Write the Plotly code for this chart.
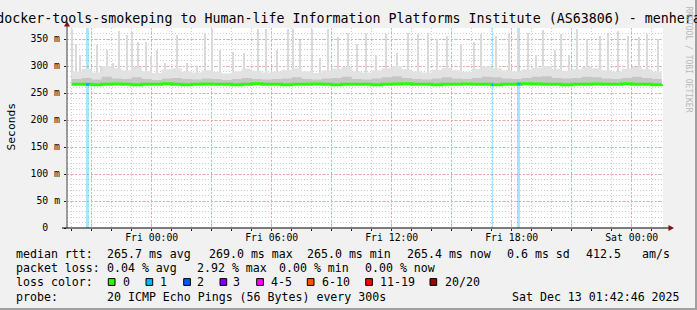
import numpy as np
import pandas as pd
import plotly.graph_objects as go

# ---------------- data ----------------
FRI0 = pd.Timestamp("2025-12-12 00:00:00")          # "Fri 00:00"
X_START = pd.Timestamp("2025-12-11 19:45:54")
X_END = pd.Timestamp("2025-12-13 01:33:54")

title_text = "docker-tools-smokeping to Human-life Information Platforms Institute (AS63806) - menhera"

# y axis ticks (ms)
y_tickvals = [0, 50, 100, 150, 200, 250, 300, 350]
y_ticktext = ["0\u00a0\u00a0", "50 m", "100 m", "150 m", "200 m", "250 m", "300 m", "350 m"]

# median rtt every 30 min, hours relative to Fri 00:00
median_hours = [-4.0 + 0.5 * i for i in range(60)]
median_ms = [266, 266, 265.5, 266, 266.5, 266, 265.5, 266, 266, 267,
             266, 265.5, 266, 266.5, 266, 266, 265.5, 266, 267, 266,
             266, 265.5, 266, 266, 266.5, 266, 265.5, 266, 266, 266,
             265.5, 266, 266.5, 267, 266, 266, 265.5, 266, 266, 266.5,
             266, 266, 265.5, 266, 266, 267, 266.5, 266, 266, 265.5,
             266, 266, 266.5, 266, 266, 267, 266, 266, 265.5, 266]
# dense smoke upper edges (ms) every 30 min
smoke_light_ms = [290, 295, 288, 300, 296, 292, 298, 290, 287, 294,
                  296, 290, 288, 292, 289, 286, 290, 295, 291, 288,
                  290, 293, 296, 290, 287, 292, 295, 298, 290, 288,
                  292, 296, 300, 294, 290, 288, 293, 297, 292, 289,
                  295, 299, 296, 292, 290, 294, 297, 300, 295, 291,
                  294, 298, 296, 292, 290, 295, 298, 294, 290, 292]
smoke_dark_ms = [276, 278, 275, 280, 277, 276, 279, 276, 274, 277,
                 278, 276, 275, 277, 276, 274, 276, 278, 276, 275,
                 276, 277, 279, 276, 275, 277, 278, 280, 276, 275,
                 277, 279, 281, 278, 276, 275, 277, 279, 277, 276,
                 278, 280, 279, 277, 276, 278, 280, 281, 278, 277,
                 278, 280, 279, 277, 276, 278, 280, 278, 276, 277]

# individual spikes (max ping): hours relative to Fri 00:00, ms
spike_hours = [-3.99, -3.79, -3.59, -2.74, -2.54, -2.24, -1.94, -1.64, -1.24, -0.99,
               -0.69, -0.29, -0.04, 0.27, 0.67, 1.27, 1.77, 2.27, 2.67, 3.02,
               3.42, 4.07, 4.62, 5.32, 5.72, 6.27, 6.82, 7.07, 7.42, 8.02,
               8.42, 8.82, 9.32, 9.82, 10.27, 10.72, 11.22, 11.72, 12.27, 12.82,
               13.32, 13.82, 14.27, 14.77, 15.47, 16.12, 16.47, 17.22, 17.87, 18.32,
               18.82, 19.22, 19.57, 20.17, 20.47, 20.87, 21.27, 21.77, 22.42, 22.82,
               23.32, 23.82, 24.37, 24.77, 25.32]
spike_ms = [368, 340, 320, 339, 300, 330, 305, 364, 357, 363,
            345, 344, 318, 330, 305, 357, 305, 300, 361, 369,
            330, 326, 324, 368, 368, 330, 368, 369, 348, 368,
            315, 369, 354, 362, 340, 362, 320, 360, 325, 362,
            360, 362, 350, 355, 340, 345, 360, 355, 361, 368,
            362, 320, 367, 330, 360, 320, 369, 350, 355, 362,
            364, 355, 354, 360, 350]

# packet loss events: hours relative to Fri 00:00, duration (min), lost pings of 20
loss_hours = [-3.21, 17.04, 18.35]
loss_minutes = [10, 5, 10]
loss_count = [1, 1, 1]

# legend / statistics
stat_labels = ["median rtt:", "packet loss:", "loss color:", "probe:"]
rtt_stats = ["265.7 ms avg", "269.0 ms max", "265.0 ms min", "265.4 ms now", "0.6 ms sd", "412.5", "am/s"]
loss_stats = ["0.04 % avg", "2.92 % max", "0.00 % min", "0.00 % now"]
loss_color_labels = ["0", "1", "2", "3", "4-5", "6-10", "11-19", "20/20"]
loss_colors = ["#26ff00", "#00b8ff", "#0059ff", "#7e00ff", "#ff00ff", "#ff5500", "#ff0000", "#a10000"]
probe_text = "20 ICMP Echo Pings (56 Bytes) every 300s"
stamp_text = "Sat Dec 13 01:42:46 2025"

# ---------------- layout geometry ----------------
W, H = 697, 310
ML, MR, MT, MB = 67, 34, 28, 82
PW, PH = W - ML - MR, H - MT - MB
Y_MAX = 370.4
MONO = "DejaVu Sans Mono"


def px(x):
    return (x - ML) / PW


def py(y):
    return (H - MB - y) / PH


def at(hours):
    return FRI0 + pd.to_timedelta(np.asarray(hours, dtype=float), unit="h")


fig = go.Figure()

# loss background bands
fig.add_trace(go.Bar(
    x=at(loss_hours), y=[Y_MAX] * len(loss_hours), base=0,
    width=[m * 60000 for m in loss_minutes],
    marker=dict(color="rgba(0,184,255,0.35)", line=dict(width=0)),
    hoverinfo="skip", showlegend=False))

# spikes
fig.add_trace(go.Bar(
    x=at(spike_hours), y=[s - 266 for s in spike_ms], base=266,
    width=6 * 60000,
    marker=dict(color="#dadada", line=dict(width=0)),
    hoverinfo="skip", showlegend=False))

mx = at(median_hours)
# light smoke
fig.add_trace(go.Scatter(x=mx, y=median_ms, mode="lines", line=dict(width=0, shape="hv"),
                         hoverinfo="skip", showlegend=False))
fig.add_trace(go.Scatter(x=mx, y=smoke_light_ms, mode="lines", line=dict(width=0, shape="hv"),
                         fill="tonexty", fillcolor="#e2e2e2", hoverinfo="skip", showlegend=False))
# dark smoke
fig.add_trace(go.Scatter(x=mx, y=median_ms, mode="lines", line=dict(width=0, shape="hv"),
                         hoverinfo="skip", showlegend=False))
fig.add_trace(go.Scatter(x=mx, y=smoke_dark_ms, mode="lines", line=dict(width=0, shape="hv"),
                         fill="tonexty", fillcolor="#c6c6c6", hoverinfo="skip", showlegend=False))

# median line
fig.add_trace(go.Scatter(x=mx, y=median_ms, mode="lines",
                         line=dict(color=loss_colors[0], width=3, shape="hv"),
                         hoverinfo="skip", showlegend=False))
# median coloured by loss
for h, m, c in zip(loss_hours, loss_minutes, loss_count):
    t0 = at(h - m / 120.0)
    t1 = at(h + m / 120.0)
    val = float(np.interp(h, median_hours, median_ms))
    fig.add_trace(go.Scatter(x=[t0, t1], y=[val, val], mode="lines",
                             line=dict(color=loss_colors[c], width=3),
                             hoverinfo="skip", showlegend=False))

# x ticks every 3 h (labels every 6 h)
x_tickvals = [FRI0 + pd.Timedelta(hours=h) for h in range(-3, 26, 3)]
x_ticktext = [t.strftime("%a %H:%M") if t.hour % 6 == 0 else "" for t in x_tickvals]

fig.update_layout(
    width=W, height=H,
    margin=dict(l=ML, r=MR, t=MT, b=MB, pad=0),
    paper_bgcolor="#f1f1f1", plot_bgcolor="#ffffff",
    barmode="overlay", bargap=0,
    font=dict(family=MONO, color="#000000", size=10),
    title=dict(text=title_text, x=0.5, xref="container", xanchor="center",
               y=1 - 18.0 / H, yref="container", yanchor="middle",
               font=dict(family=MONO, size=13.3, color="#000000")),
    xaxis=dict(
        type="date", range=[X_START, X_END], autorange=False,
        tickmode="array", tickvals=x_tickvals, ticktext=x_ticktext,
        tickfont=dict(family=MONO, size=9.8, color="#000000"),
        showgrid=True, gridcolor="#f0a8a8", griddash="2px,2px", gridwidth=1,
        ticks="outside", ticklen=2, tickcolor="#202020", ticklabelstandoff=-2,
        minor=dict(dtick=3600000, tick0="2025-12-12 00:00", showgrid=True,
                   gridcolor="#cfcfcf", griddash="1px,2px", ticks="outside", ticklen=2,
                   tickcolor="#202020"),
        showline=False, zeroline=False, fixedrange=True, automargin=False,
    ),
    yaxis=dict(
        range=[0, Y_MAX], autorange=False,
        tickmode="array", tickvals=y_tickvals, ticktext=y_ticktext,
        tickfont=dict(family=MONO, size=9.8, color="#000000"),
        showgrid=True, gridcolor="#f0a8a8", griddash="2px,2px", gridwidth=1,
        ticks="outside", ticklen=2, tickcolor="#202020", ticklabelstandoff=2,
        minor=dict(dtick=10, showgrid=True, gridcolor="#cfcfcf", griddash="1px,2px",
                   ticks="", ticklen=0),
        showline=False, zeroline=False, fixedrange=True, automargin=False,
    ),
)

shapes = []
# axes lines
shapes.append(dict(type="line", xref="paper", yref="paper", x0=px(67), x1=px(67), y0=py(228), y1=py(24),
                   line=dict(color="#404040", width=1)))
shapes.append(dict(type="line", xref="paper", yref="paper", x0=px(62), x1=px(670), y0=py(228), y1=py(228),
                   line=dict(color="#000000", width=1.2)))
# arrows
shapes.append(dict(type="path", xref="paper", yref="paper",
                   path=f"M {px(64)} {py(26.5)} L {px(70)} {py(26.5)} L {px(67)} {py(21)} Z",
                   fillcolor="#801010", line=dict(width=0)))
shapes.append(dict(type="path", xref="paper", yref="paper",
                   path=f"M {px(668.5)} {py(225)} L {px(668.5)} {py(231)} L {px(674)} {py(228)} Z",
                   fillcolor="#801010", line=dict(width=0)))
# frame (shade)
shapes.append(dict(type="rect", xref="paper", yref="paper", x0=px(695), x1=px(697.5), y0=py(310.5), y1=py(-0.5),
                   fillcolor="#a0a0a0", line=dict(width=0), layer="above"))
shapes.append(dict(type="rect", xref="paper", yref="paper", x0=px(-0.5), x1=px(697.5), y0=py(310.5), y1=py(308),
                   fillcolor="#a0a0a0", line=dict(width=0), layer="above"))

annotations = []


def txt(s, x, y, anchor="left", size=11.6, color="#000000", angle=0, family=MONO):
    annotations.append(dict(text=s, x=px(x), y=py(y), xref="paper", yref="paper",
                            xanchor=anchor, yanchor="middle", showarrow=False,
                            borderpad=0, borderwidth=0, textangle=angle,
                            font=dict(family=family, size=size, color=color)))


rows_y = [253.5, 268, 282, 296.5]
for lab, yy in zip(stat_labels, rows_y):
    txt(lab, 16, yy)
for s, xx in zip(rtt_stats, [107.3, 209, 307.3, 407.3, 506.7, 586, 642]):
    txt(s, xx, rows_y[0])
for s, xx in zip(loss_stats, [107.3, 197.3, 279.3, 365.3]):
    txt(s, xx, rows_y[1])
sq_x = [108.3, 146, 183.7, 220, 256.7, 307.3, 365.7, 430]
lab_x = [123.3, 160, 197.3, 233.3, 270.7, 321.7, 380, 445]
for lab, col, sx, lx in zip(loss_color_labels, loss_colors, sq_x, lab_x):
    shapes.append(dict(type="rect", xref="paper", yref="paper",
                       x0=px(sx), x1=px(sx + 6.7), y0=py(rows_y[2] + 3.4), y1=py(rows_y[2] - 3.4),
                       fillcolor=col, line=dict(color="#000000", width=1)))
    txt(lab, lx, rows_y[2])
txt(probe_text, 107.3, rows_y[3])
txt(stamp_text, 680, rows_y[3], anchor="right")

# axis title and watermark
txt("Seconds", 10.5, 127, anchor="center", size=11.3, angle=-90)
txt("RRDTOOL / TOBI OETIKER", 688.5, 59, anchor="center", size=8, color="#b8b8b8", angle=90)

fig.update_layout(shapes=shapes, annotations=annotations)

fig.write_html("out.html", include_plotlyjs=True, full_html=True,
               config={"displayModeBar": False, "staticPlot": True})
